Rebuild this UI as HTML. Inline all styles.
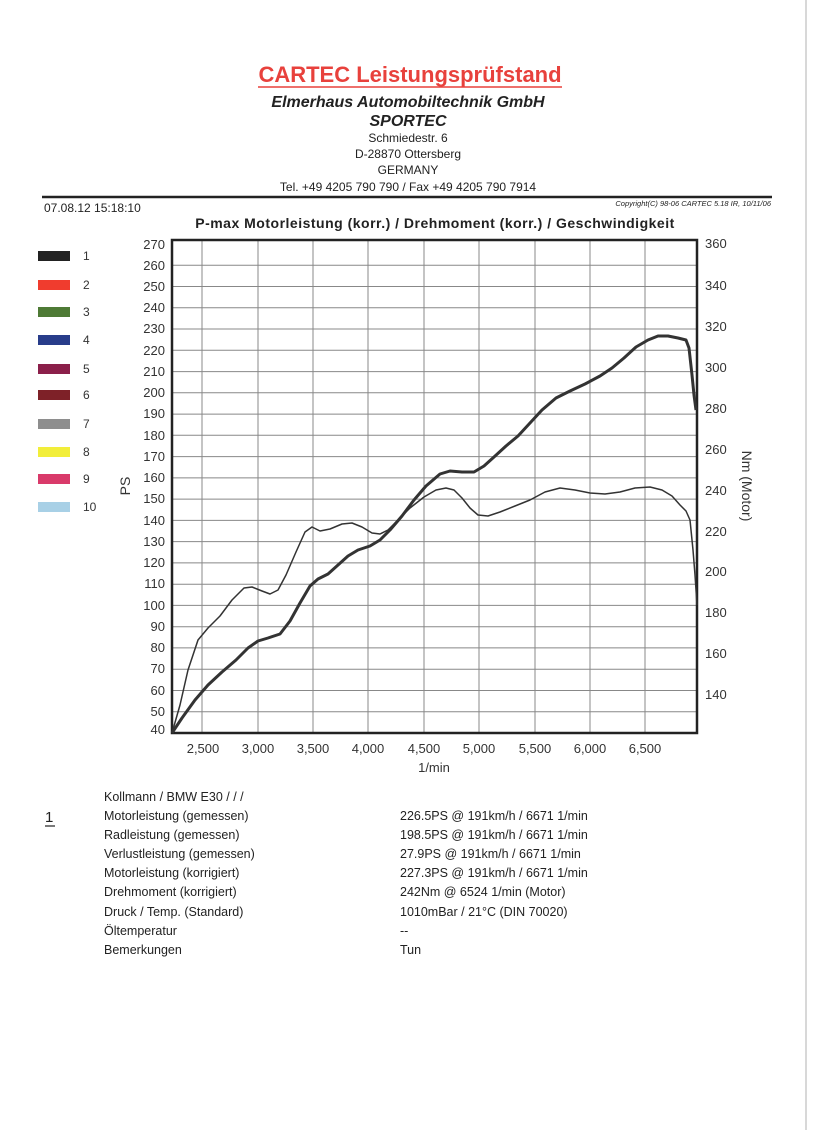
<!DOCTYPE html>
<html><head><meta charset="utf-8"><style>
body{margin:0;background:#fff;}
svg{display:block;font-family:"Liberation Sans",sans-serif;}
</style></head><body>
<svg width="826" height="1130" viewBox="0 0 826 1130" xmlns="http://www.w3.org/2000/svg">
<rect width="826" height="1130" fill="#fff"/>
<line x1="806" y1="0" x2="806" y2="1130" stroke="#ccc" stroke-width="1.5"/>
<text x="410" y="82" text-anchor="middle" font-size="22" font-weight="bold" fill="#e8413c">CARTEC Leistungsprüfstand</text>
<line x1="258" y1="87" x2="562" y2="87" stroke="#e8413c" stroke-width="1.5"/>
<text x="408" y="107" text-anchor="middle" font-size="16" font-weight="bold" font-style="italic" fill="#222">Elmerhaus Automobiltechnik GmbH</text>
<text x="408" y="126" text-anchor="middle" font-size="16" font-weight="bold" font-style="italic" fill="#222">SPORTEC</text>
<text x="408" y="142" text-anchor="middle" font-size="12" fill="#222">Schmiedestr. 6</text>
<text x="408" y="158" text-anchor="middle" font-size="12" fill="#222">D-28870 Ottersberg</text>
<text x="408" y="174" text-anchor="middle" font-size="12" fill="#222">GERMANY</text>
<text x="408" y="191" text-anchor="middle" font-size="12" fill="#222">Tel. +49 4205 790 790 / Fax +49 4205 790 7914</text>
<line x1="42" y1="197" x2="772" y2="197" stroke="#222" stroke-width="2.5"/>
<text x="44" y="212" font-size="12" fill="#222">07.08.12 15:18:10</text>
<text x="771" y="206" text-anchor="end" font-size="7.5" font-style="italic" fill="#222">Copyright(C) 98-06 CARTEC 5.18 IR, 10/11/06</text>
<text x="435" y="228" text-anchor="middle" font-size="14" font-weight="bold" fill="#222" letter-spacing="0.5">P-max Motorleistung (korr.) / Drehmoment (korr.) / Geschwindigkeit</text>
<g font-size="12" fill="#333">
<rect x="38" y="251" width="32" height="10" fill="#222"/><text x="83" y="260">1</text>
<rect x="38" y="280" width="32" height="10" fill="#f03c2e"/><text x="83" y="289">2</text>
<rect x="38" y="307" width="32" height="10" fill="#4e7a35"/><text x="83" y="316">3</text>
<rect x="38" y="335" width="32" height="10" fill="#283c8a"/><text x="83" y="344">4</text>
<rect x="38" y="364" width="32" height="10" fill="#8b1f4a"/><text x="83" y="373">5</text>
<rect x="38" y="390" width="32" height="10" fill="#7e2128"/><text x="83" y="399">6</text>
<rect x="38" y="419" width="32" height="10" fill="#8e8e8e"/><text x="83" y="428">7</text>
<rect x="38" y="447" width="32" height="10" fill="#f2ee3a"/><text x="83" y="456">8</text>
<rect x="38" y="474" width="32" height="10" fill="#d93a6a"/><text x="83" y="483">9</text>
<rect x="38" y="502" width="32" height="10" fill="#a8d0e6"/><text x="83" y="511">10</text>
</g>
<g stroke="#888" stroke-width="1">
<line x1="202" y1="240" x2="202" y2="733"/><line x1="258" y1="240" x2="258" y2="733"/>
<line x1="313" y1="240" x2="313" y2="733"/><line x1="368" y1="240" x2="368" y2="733"/>
<line x1="424" y1="240" x2="424" y2="733"/><line x1="479" y1="240" x2="479" y2="733"/>
<line x1="535" y1="240" x2="535" y2="733"/><line x1="590" y1="240" x2="590" y2="733"/>
<line x1="645" y1="240" x2="645" y2="733"/>
</g>
<g stroke="#888" stroke-width="1">
<line x1="172" y1="265.3" x2="697" y2="265.3"/><line x1="172" y1="286.5" x2="697" y2="286.5"/>
<line x1="172" y1="307.8" x2="697" y2="307.8"/><line x1="172" y1="329" x2="697" y2="329"/>
<line x1="172" y1="350.3" x2="697" y2="350.3"/><line x1="172" y1="371.6" x2="697" y2="371.6"/>
<line x1="172" y1="392.8" x2="697" y2="392.8"/><line x1="172" y1="414.1" x2="697" y2="414.1"/>
<line x1="172" y1="435.3" x2="697" y2="435.3"/><line x1="172" y1="456.6" x2="697" y2="456.6"/>
<line x1="172" y1="477.9" x2="697" y2="477.9"/><line x1="172" y1="499.1" x2="697" y2="499.1"/>
<line x1="172" y1="520.4" x2="697" y2="520.4"/><line x1="172" y1="541.6" x2="697" y2="541.6"/>
<line x1="172" y1="562.9" x2="697" y2="562.9"/><line x1="172" y1="584.2" x2="697" y2="584.2"/>
<line x1="172" y1="605.4" x2="697" y2="605.4"/><line x1="172" y1="626.7" x2="697" y2="626.7"/>
<line x1="172" y1="647.9" x2="697" y2="647.9"/><line x1="172" y1="669.2" x2="697" y2="669.2"/>
<line x1="172" y1="690.5" x2="697" y2="690.5"/><line x1="172" y1="711.7" x2="697" y2="711.7"/>
</g>
<rect x="172" y="240" width="525" height="493" fill="none" stroke="#222" stroke-width="2.5"/>
<g font-size="13" fill="#333" text-anchor="end">
<text x="165" y="249">270</text><text x="165" y="270">260</text><text x="165" y="291">250</text>
<text x="165" y="312">240</text><text x="165" y="333">230</text><text x="165" y="355">220</text>
<text x="165" y="376">210</text><text x="165" y="397">200</text><text x="165" y="418">190</text>
<text x="165" y="440">180</text><text x="165" y="461">170</text><text x="165" y="482">160</text>
<text x="165" y="503">150</text><text x="165" y="525">140</text><text x="165" y="546">130</text>
<text x="165" y="567">120</text><text x="165" y="588">110</text><text x="165" y="610">100</text>
<text x="165" y="631">90</text><text x="165" y="652">80</text><text x="165" y="673">70</text>
<text x="165" y="695">60</text><text x="165" y="716">50</text><text x="165" y="734">40</text>
</g>
<text x="130" y="486" font-size="14" fill="#333" transform="rotate(-90 130 486)" text-anchor="middle">PS</text>
<g font-size="13" fill="#333">
<text x="705" y="248">360</text><text x="705" y="290">340</text><text x="705" y="331">320</text>
<text x="705" y="372">300</text><text x="705" y="413">280</text><text x="705" y="454">260</text>
<text x="705" y="495">240</text><text x="705" y="536">220</text><text x="705" y="576">200</text>
<text x="705" y="617">180</text><text x="705" y="658">160</text><text x="705" y="699">140</text>
</g>
<text x="742" y="486" font-size="14" fill="#333" transform="rotate(90 742 486)" text-anchor="middle">Nm (Motor)</text>
<g font-size="13" fill="#333" text-anchor="middle">
<text x="203" y="753">2,500</text><text x="258" y="753">3,000</text><text x="313" y="753">3,500</text>
<text x="368" y="753">4,000</text><text x="424" y="753">4,500</text><text x="479" y="753">5,000</text>
<text x="535" y="753">5,500</text><text x="590" y="753">6,000</text><text x="645" y="753">6,500</text>
<text x="434" y="772">1/min</text>
</g>
<polyline fill="none" stroke="#333" stroke-width="1.5" stroke-linejoin="round" points="172,733 180,705 188,670 198,640 208,628 220,616 232,600 244,588 252,587 262,591 270,594 278,590 286,575 296,552 305,532 312,527 320,531 330,529 342,524 352,523 362,527 372,533 380,534 388,530 396,522 410,508 424,497 436,490 446,488 454,490 462,498 470,508 478,515 488,516 500,512 515,506 530,500 545,492 560,488 575,490 590,493 605,494 620,492 635,488 650,487 662,490 672,496 680,505 686,511 690,520 693,550 695,575 697,605"/>
<polyline fill="none" stroke="#333" stroke-width="3" stroke-linejoin="round" points="172,733 182,718 195,700 208,685 222,672 236,660 248,648 258,641 268,638 280,634 290,621 300,603 310,586 318,579 328,574 338,565 348,556 358,550 370,546 380,540 390,530 402,516 414,500 426,486 440,474 450,471 462,472 474,472 484,466 494,457 506,446 518,436 530,423 542,410 556,398 570,391 585,384 600,376 612,368 624,358 636,347 648,340 658,336 668,336 678,338 686,340 689,348 692,375 694,395 696,410"/>
<text x="45" y="822" font-size="15" fill="#222">1</text>
<line x1="45" y1="826" x2="55" y2="826" stroke="#222" stroke-width="1.2"/>
<g font-size="12.5" fill="#222">
<text x="104" y="801">Kollmann / BMW E30 /  /  /</text>
<text x="104" y="820">Motorleistung (gemessen)</text>
<text x="104" y="839">Radleistung (gemessen)</text>
<text x="104" y="858">Verlustleistung (gemessen)</text>
<text x="104" y="877">Motorleistung (korrigiert)</text>
<text x="104" y="896">Drehmoment (korrigiert)</text>
<text x="104" y="916">Druck / Temp. (Standard)</text>
<text x="104" y="935">Öltemperatur</text>
<text x="104" y="954">Bemerkungen</text>
<text x="400" y="820">226.5PS @ 191km/h / 6671 1/min</text>
<text x="400" y="839">198.5PS @ 191km/h / 6671 1/min</text>
<text x="400" y="858">27.9PS @ 191km/h / 6671 1/min</text>
<text x="400" y="877">227.3PS @ 191km/h / 6671 1/min</text>
<text x="400" y="896">242Nm @ 6524 1/min (Motor)</text>
<text x="400" y="916">1010mBar / 21°C   (DIN 70020)</text>
<text x="400" y="935">--</text>
<text x="400" y="954">Tun</text>
</g>
</svg>
</body></html>
